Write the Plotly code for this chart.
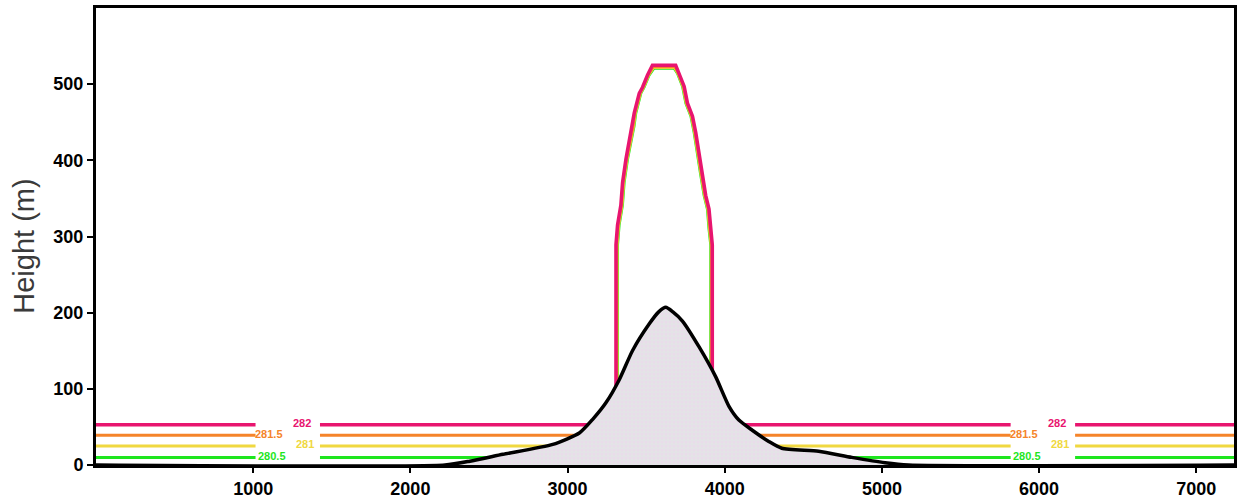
import plotly.graph_objects as go

# Terrain profile (distance in m, height in m)
terrain_x = [0, 2220, 2378, 2589, 2906, 3075, 3160, 3245, 3329, 3413, 3519, 3580,
             3625, 3670, 3731, 3837, 3942, 4027, 4090, 4173, 4280, 4363, 4597,
             4808, 5020, 5168, 7240]
terrain_h = [0, 0, 5, 14, 27, 42, 60, 82, 112, 150, 185, 201,
             207, 201, 189, 155, 116, 77, 59, 46, 31, 22, 18,
             10, 3, 0, 0]

# Isentrope levels: label, upstream height, colour, inward offset of the dome wall
levels = ["282", "281.5", "281", "280.5"]
level_h = [53, 39, 25, 10]
level_colors = ["#e8156f", "#f5842a", "#f0d840", "#1ee61e"]
level_inset = [0, 4, 7, 10]
level_top_drop = [0, 2, 3, 4]

# Outer dome of the isentropes above the hill
dome_left_x = [3308, 3308, 3318, 3339, 3350, 3371, 3392, 3413, 3424, 3456, 3477, 3509, 3540]
dome_left_h = [None, 289, 315, 341, 371, 401, 423, 445, 462, 488, 496, 512, 525]
dome_right_x = [3688, 3710, 3742, 3763, 3795, 3816, 3837, 3858, 3879, 3900, 3910, 3921, 3921]
dome_right_h = [525, 514, 497, 475, 458, 436, 406, 380, 354, 336, 310, 289, None]

# Where the contour labels sit (gaps are left in the lines there)
label_x = [1220, 6024]
label_gap = 205
label_dx = [90, -120, 110, -100]

x_max = 7240
y_max = 600

fig = go.Figure()

# contour lines, drawn innermost first so the outer (pink) line is on top
for k in reversed(range(len(levels))):
    h = level_h[k]
    ins = level_inset[k]
    drop = level_top_drop[k]
    xs, ys = [], []
    xs += [0, label_x[0] - label_gap, None, label_x[0] + label_gap]
    ys += [h, h, None, h]
    for xv, hv in zip(dome_left_x, dome_left_h):
        xs.append(xv + ins)
        ys.append(h if hv is None else min(hv, 525 - drop))
    for xv, hv in zip(dome_right_x, dome_right_h):
        xs.append(xv - ins)
        ys.append(h if hv is None else min(hv, 525 - drop))
    xs += [label_x[1] - label_gap, None, label_x[1] + label_gap, x_max]
    ys += [h, None, h, h]
    fig.add_trace(go.Scatter(
        x=xs, y=ys, mode="lines",
        line=dict(color=level_colors[k], width=3.5 if k == 0 else 3),
        hoverinfo="skip", showlegend=False,
    ))

# hill, filled so it hides the contours passing below the surface
fig.add_trace(go.Scatter(
    x=terrain_x, y=terrain_h, mode="lines",
    line=dict(color="black", width=3.5, shape="spline", smoothing=0.6),
    fill="tozeroy",
    fillcolor="#e3e3e6",
    fillpattern=dict(shape=".", bgcolor="#e3e3e6", fgcolor="#f0d6ee",
                     size=4, solidity=0.45),
    hoverinfo="skip", showlegend=False,
))

# contour labels
for lx in label_x:
    for k in range(len(levels)):
        fig.add_annotation(
            x=lx + label_dx[k], y=level_h[k] + 2, text=levels[k],
            showarrow=False, xref="x", yref="y",
            font=dict(family="Liberation Sans", size=11, color=level_colors[k],
                      weight="bold"),
        )

# vertical axis title
fig.add_annotation(
    x=-0.064, y=0.478, xref="paper", yref="paper", text="Height (m)",
    textangle=-90, showarrow=False, xanchor="center", yanchor="middle",
    font=dict(family="Liberation Sans", size=29, color="#3a3a3a"),
)

tick_font = dict(family="Liberation Sans", size=18, color="black", weight="bold")

fig.update_layout(
    width=1242, height=504,
    margin=dict(l=96, r=5, t=7, b=35),
    paper_bgcolor="white", plot_bgcolor="white",
    xaxis=dict(
        range=[0, x_max], tickvals=[1000, 2000, 3000, 4000, 5000, 6000, 7000],
        showgrid=False, zeroline=False, showline=True, linecolor="black",
        linewidth=3, mirror=True, ticks="outside", ticklen=5, tickwidth=2,
        tickcolor="black", tickfont=tick_font,
    ),
    yaxis=dict(
        range=[0, y_max], tickvals=[0, 100, 200, 300, 400, 500],
        showgrid=False, zeroline=False, showline=True, linecolor="black",
        linewidth=3, mirror=True, ticks="outside", ticklen=6, tickwidth=2,
        tickcolor="black", tickfont=tick_font,
    ),
)

fig.write_html("out.html")
